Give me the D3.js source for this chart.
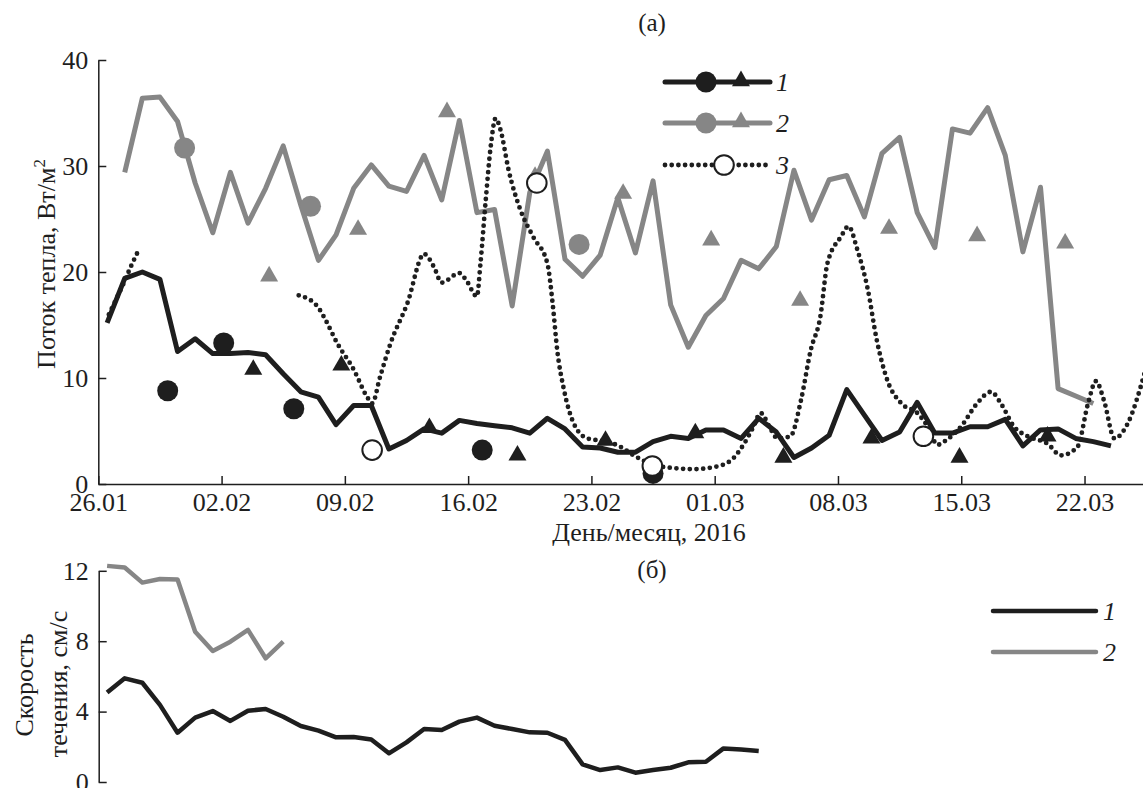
<!DOCTYPE html>
<html>
<head>
<meta charset="utf-8">
<script src="https://cdn.jsdelivr.net/npm/d3@7"></script>
<style>
  body { margin: 0; background: #fff; }
  svg { display: block; }
  svg text { font-family: "Liberation Serif", "Times New Roman", "DejaVu Serif", serif; }
</style>
</head>
<body>
<svg id="chart" width="1143" height="788"></svg>
<script>
// day offsets are counted from 26.01.2016
var tickDays = [0, 7, 14, 21, 28, 35, 42, 49, 56];
var tickLabels = ["26.01", "02.02", "09.02", "16.02", "23.02", "01.03", "08.03", "15.03", "22.03"];

// (a) heat flux, daily values (series 1 starts at day 0.5, series 2 at day 1.5)
var flux1 = [15.2, 19.4, 20.0, 19.3, 12.5, 13.7, 12.3, 12.3, 12.4, 12.2,
             10.4, 8.7, 8.2, 5.6, 7.4, 7.4, 3.3, 4.1, 5.2, 4.8,
             6.0, 5.7, 5.5, 5.3, 4.8, 6.2, 5.2, 3.5, 3.4, 3.0,
             3.0, 4.0, 4.5, 4.3, 5.1, 5.1, 4.3, 6.2, 4.9, 2.5,
             3.4, 4.6, 8.9, 6.5, 4.1, 4.9, 7.7, 4.8, 4.8, 5.4,
             5.4, 6.1, 3.6, 5.1, 5.2, 4.3, 4.0, 3.6];
var flux2 = [29.4, 36.4, 36.5, 34.2, 28.4, 23.7, 29.4, 24.6, 27.9, 31.9,
             26.3, 21.1, 23.5, 27.9, 30.1, 28.1, 27.6, 31.0, 26.8, 34.3,
             25.6, 25.9, 16.8, 27.5, 31.4, 21.2, 19.6, 21.6, 27.0, 21.8,
             28.6, 16.9, 12.9, 15.9, 17.5, 21.1, 20.3, 22.4, 29.6, 24.9,
             28.7, 29.1, 25.2, 31.2, 32.7, 25.6, 22.3, 33.5, 33.1, 35.5,
             31.0, 21.9, 28.0, 9.0, 8.3, 7.6];
var flux1Start = 0.5, flux2Start = 1.5;

// series 3 (dotted), irregular times; null breaks the line
var flux3Days = [0.6, 1.4, 1.9, 2.3, 5,
  11.38, 12.42, 12.8, 13.56, 14.5, 15.27, 15.55, 16.0, 16.6, 17.54,
  18.5, 19.05, 19.5, 20.5, 20.9, 21.5, 21.7, 22.0, 22.3, 22.56,
  22.84, 23.3, 23.98, 24.7, 25.5, 25.8, 26.06, 26.44, 27.0, 27.77,
  28.9, 29.66, 30.4, 31.55, 32.7, 33.8, 34.96, 35.9, 36.67, 37.2,
  37.6, 38.2, 38.56, 39.3, 39.9, 40.45, 41.0, 41.4, 42.16, 42.6,
  43.1, 43.7, 44.2, 44.8, 45.6, 46.5, 47.1, 47.65, 48.2, 48.98,
  49.9, 50.7, 51.25, 52.0, 52.77, 53.9, 54.66, 55.6, 56.2, 56.65,
  57.1, 57.7, 58.45, 59.4];
var flux3 = [16.0, 18.8, 20.7, 22.1, null,
  17.8, 16.8, 15.8, 13.3, 10.8, 8.2, 7.6, 10.1, 13.3, 17.0,
  21.7, 20.5, 19.0, 19.9, 19.2, 17.7, 20.8, 26.8, 32.1, 34.5,
  33.4, 29.6, 25.8, 23.3, 20.8, 17.0, 12.6, 8.9, 5.7, 4.3,
  4.0, 3.5, 2.7, 1.8, 1.5, 1.4, 1.6, 2.2, 3.8, 5.4,
  6.7, 5.1, 4.3, 4.5, 7.9, 12.6, 15.8, 20.8, 23.3, 24.3,
  22.1, 18.3, 13.6, 9.8, 7.6, 6.7, 5.4, 3.7, 4.2, 5.4,
  7.6, 8.7, 7.6, 5.4, 4.5, 3.8, 2.7, 3.5, 7.6, 9.7,
  7.9, 4.3, 5.7, 10.4];

// point measurements
var s1CircleDays = [3.94, 7.12, 11.1, 21.8, 31.5];
var s1CircleVals = [8.8, 13.3, 7.1, 3.2, 1.0];
var s1TriDays = [8.8, 13.8, 18.8, 23.8, 28.8, 33.9, 38.9, 43.9, 48.9, 53.9];
var s1TriVals = [10.8, 11.2, 5.3, 2.7, 4.1, 4.8, 2.5, 4.3, 2.5, 4.5];
var s2CircleDays = [4.9, 12.05, 27.3];
var s2CircleVals = [31.7, 26.2, 22.6];
var s2TriDays = [9.7, 14.75, 19.8, 24.8, 29.8, 34.8, 39.85, 44.9, 49.9, 54.9];
var s2TriVals = [19.6, 24.0, 35.1, 29.0, 27.4, 23.0, 17.3, 24.1, 23.4, 22.7];
var s3CircleDays = [15.55, 24.9, 31.46, 46.85];
var s3CircleVals = [3.2, 28.4, 1.7, 4.5];

// (б) current speed, daily from day 0.5
var speed1 = [5.08, 5.89, 5.64, 4.38, 2.80, 3.66, 4.03, 3.47, 4.05, 4.15,
              3.71, 3.18, 2.92, 2.54, 2.56, 2.42, 1.63, 2.25, 3.01, 2.95,
              3.43, 3.66, 3.20, 3.01, 2.82, 2.80, 2.39, 1.00, 0.68, 0.83,
              0.53, 0.68, 0.81, 1.12, 1.15, 1.91, 1.84, 1.76];
var speed2 = [12.28, 12.19, 11.33, 11.53, 11.51, 8.54, 7.44, 7.97, 8.64, 7.03, 7.97];
var speedStart = 0.5;

var fluxTicks = [0, 10, 20, 30, 40];
var speedTicks = [0, 4, 8, 12];

var BLACK = "#1e1e1e", GRAY = "#868686";
var FONT = 26;
var SERIF = "'Liberation Serif', 'Times New Roman', 'DejaVu Serif', serif";

var svg = d3.select("#chart").attr("font-family", SERIF);

var x = d3.scaleLinear().domain([0, 59.32]).range([98.3, 1143]);
var y1 = d3.scaleLinear().domain([0, 40]).range([484, 60]);
var y2 = d3.scaleLinear().domain([0, 12]).range([782, 570.8]);

function daily(vals, start) {
  return vals.map(function (v, i) { return [start + i, v]; });
}
function pairs(days, vals) {
  return days.map(function (d, i) { return [d, vals[i]]; });
}

function styleAxis(g) {
  g.attr("font-size", FONT).attr("font-family", SERIF);
  g.select(".domain").attr("stroke", BLACK).attr("stroke-width", 1.5);
  g.selectAll(".tick line").attr("stroke", BLACK).attr("stroke-width", 1.5);
  g.selectAll(".tick text").attr("fill", BLACK);
}

// ---------- panel (a) ----------
svg.append("g")
  .attr("transform", "translate(0,484)")
  .call(d3.axisBottom(x).tickValues(tickDays)
    .tickFormat(function (d, i) { return tickLabels[i]; })
    .tickSizeInner(-8).tickSizeOuter(0).tickPadding(9))
  .call(styleAxis);

svg.append("g")
  .attr("transform", "translate(98.3,0)")
  .call(d3.axisLeft(y1).tickValues(fluxTicks)
    .tickSizeInner(-8).tickSizeOuter(0).tickPadding(10))
  .call(styleAxis);

var line1 = d3.line()
  .defined(function (d) { return d[1] != null; })
  .x(function (d) { return x(d[0]); })
  .y(function (d) { return y1(d[1]); });

svg.append("path").datum(daily(flux2, flux2Start))
  .attr("d", line1).attr("fill", "none")
  .attr("stroke", GRAY).attr("stroke-width", 5).attr("stroke-linejoin", "round");

svg.append("path").datum(daily(flux1, flux1Start))
  .attr("d", line1).attr("fill", "none")
  .attr("stroke", BLACK).attr("stroke-width", 5).attr("stroke-linejoin", "round");

svg.append("path").datum(pairs(flux3Days, flux3))
  .attr("d", line1.curve(d3.curveMonotoneX)).attr("fill", "none")
  .attr("stroke", BLACK).attr("stroke-width", 4.8)
  .attr("stroke-linecap", "round").attr("stroke-dasharray", "0 6.7");
line1.curve(d3.curveLinear);

var tri = d3.symbol().type(d3.symbolTriangle).size(140);

function triangles(days, vals, color) {
  svg.append("g").selectAll("path").data(pairs(days, vals)).join("path")
    .attr("d", tri)
    .attr("transform", function (d) { return "translate(" + x(d[0]) + "," + y1(d[1]) + ")"; })
    .attr("fill", color);
}
function circles(days, vals, fill, stroke) {
  svg.append("g").selectAll("circle").data(pairs(days, vals)).join("circle")
    .attr("cx", function (d) { return x(d[0]); })
    .attr("cy", function (d) { return y1(d[1]); })
    .attr("r", stroke ? 9.8 : 10.5)
    .attr("fill", fill)
    .attr("stroke", stroke || "none")
    .attr("stroke-width", 2);
}

triangles(s2TriDays, s2TriVals, GRAY);
circles(s2CircleDays, s2CircleVals, GRAY);
triangles(s1TriDays, s1TriVals, BLACK);
circles(s1CircleDays, s1CircleVals, BLACK);
circles(s3CircleDays, s3CircleVals, "#fff", BLACK);

// legend (a)
var legA = svg.append("g");
var legRows = [
  { y: 82, color: BLACK, dash: null, label: "1" },
  { y: 123, color: GRAY, dash: null, label: "2" },
  { y: 165, color: BLACK, dash: "0 6.7", label: "3" }
];
legRows.forEach(function (r, i) {
  legA.append("line").attr("x1", 665).attr("x2", 770).attr("y1", r.y).attr("y2", r.y)
    .attr("stroke", r.color).attr("stroke-width", r.dash ? 4.8 : 5)
    .attr("stroke-linecap", "round").attr("stroke-dasharray", r.dash);
  if (i < 2) {
    legA.append("circle").attr("cx", 706).attr("cy", r.y).attr("r", 10.5).attr("fill", r.color);
    legA.append("path").attr("d", tri).attr("fill", r.color)
      .attr("transform", "translate(741," + (r.y - 1) + ")");
  } else {
    legA.append("circle").attr("cx", 724).attr("cy", r.y).attr("r", 9.8)
      .attr("fill", "#fff").attr("stroke", BLACK).attr("stroke-width", 2);
  }
  legA.append("text").attr("x", 776).attr("y", r.y + 9)
    .attr("font-size", FONT).attr("font-style", "italic").attr("fill", BLACK).text(r.label);
});

svg.append("text").attr("x", 652).attr("y", 31).attr("text-anchor", "middle")
  .attr("font-size", 25).attr("fill", BLACK).text("(a)");

svg.append("text").attr("x", 649).attr("y", 541).attr("text-anchor", "middle")
  .attr("font-size", FONT).attr("fill", BLACK).text("День/месяц, 2016");

var yl = svg.append("text").attr("transform", "translate(55,264) rotate(-90)")
  .attr("text-anchor", "middle").attr("font-size", FONT).attr("fill", BLACK);
yl.append("tspan").text("Поток тепла, Вт/м");
yl.append("tspan").attr("dy", -10).attr("font-size", 17).text("2");

// ---------- panel (б) ----------
svg.append("text").attr("x", 652).attr("y", 578).attr("text-anchor", "middle")
  .attr("font-size", 25).attr("fill", BLACK).text("(б)");

svg.append("g")
  .attr("transform", "translate(98.7,0)")
  .call(d3.axisLeft(y2).tickValues(speedTicks)
    .tickSizeInner(-8).tickSizeOuter(0).tickPadding(10))
  .call(styleAxis);

var line2 = d3.line()
  .x(function (d) { return x(d[0]); })
  .y(function (d) { return y2(d[1]); });

svg.append("path").datum(daily(speed2, speedStart))
  .attr("d", line2).attr("fill", "none")
  .attr("stroke", GRAY).attr("stroke-width", 4.5).attr("stroke-linejoin", "round");
svg.append("path").datum(daily(speed1, speedStart))
  .attr("d", line2).attr("fill", "none")
  .attr("stroke", BLACK).attr("stroke-width", 4.5).attr("stroke-linejoin", "round");

var legB = [
  { y: 611, color: BLACK, label: "1" },
  { y: 652, color: GRAY, label: "2" }
];
legB.forEach(function (r) {
  svg.append("line").attr("x1", 993).attr("x2", 1096).attr("y1", r.y).attr("y2", r.y)
    .attr("stroke", r.color).attr("stroke-width", 4.5).attr("stroke-linecap", "round");
  svg.append("text").attr("x", 1103).attr("y", r.y + 9)
    .attr("font-size", FONT).attr("font-style", "italic").attr("fill", BLACK).text(r.label);
});

svg.append("text").attr("transform", "translate(33,685) rotate(-90)")
  .attr("text-anchor", "middle").attr("font-size", FONT).attr("fill", BLACK).text("Скорость");
svg.append("text").attr("transform", "translate(67,684) rotate(-90)")
  .attr("text-anchor", "middle").attr("font-size", FONT).attr("fill", BLACK).text("течения, см/с");
</script>
</body>
</html>
